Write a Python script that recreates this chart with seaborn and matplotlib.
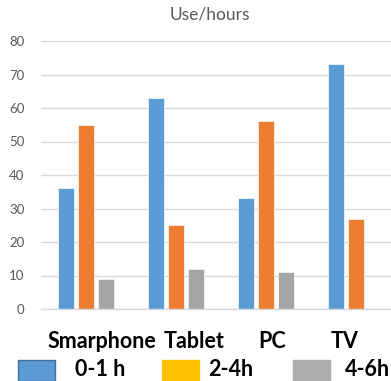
import numpy as np
import pandas as pd
import seaborn as sns
import matplotlib.pyplot as plt
from matplotlib.patches import Rectangle

# Device usage by hours per day
devices = ["Smarphone", "Tablet", "PC", "TV"]
series = ["0-1 h", "2-4h", "4-6h"]
use_0_1 = [36, 63, 33, 73]
use_2_4 = [55, 25, 56, 27]
use_4_6 = [9, 12, 11, np.nan]
title = "Use/hours"
y_ticks = [0, 10, 20, 30, 40, 50, 60, 70, 80]

bar_colors = ["#5B9BD5", "#ED7D31", "#A5A5A5"]
legend_colors = ["#5B9BD5", "#FFC000", "#AEABAB"]
legend_edges = ["#41719C", "#FFC000", "#AEABAB"]

df = pd.DataFrame({
    "device": devices * 3,
    "series": [s for s in series for _ in devices],
    "value": use_0_1 + use_2_4 + use_4_6,
})

sns.set_theme(style="white")
plt.rcParams["font.family"] = ["Lato", "DejaVu Sans"]

W, H = 391, 381
fig = plt.figure(figsize=(W / 100, H / 100), dpi=100)
ax = fig.add_axes([41 / W, (H - 309) / H, 1 - 41 / W, 268 / H])

sns.barplot(data=df, x="device", y="value", hue="series", order=devices,
            hue_order=series, palette=bar_colors, saturation=1,
            width=0.667, gap=0.2, edgecolor="#F2F2F2", linewidth=0.6,
            legend=False, ax=ax)

ax.set_xlim(-0.5, -0.5 + 350 / 90)
ax.set_ylim(0, 80)
ax.set_yticks(y_ticks)
ax.set_xticks([])
ax.set_xlabel("")
ax.set_ylabel("")
ax.grid(axis="y", color="#D9D9D9", linewidth=1.0)
ax.set_axisbelow(True)
for side in ["top", "right", "left"]:
    ax.spines[side].set_visible(False)
ax.spines["bottom"].set_color("#D9D9D9")
ax.spines["bottom"].set_linewidth(1.0)
ax.tick_params(axis="y", length=0, pad=12, labelsize=9.5, labelcolor="#595959")

fig.text(210 / W, 1 - 15 / H, title, ha="center", va="center",
         fontsize=12.5, color="#595959")

# Category labels row
label_left = [48, 164, 258, 331]
for name, x in zip(devices, label_left):
    fig.text(x / W, 1 - 347.5 / H, name, ha="left", va="baseline",
             fontsize=15.5, fontweight="bold", color="black")

# Legend row
patch_left = [18, 162, 293]
text_left = [75, 208, 345]
for name, px, tx, fc, ec in zip(series, patch_left, text_left,
                                legend_colors, legend_edges):
    fig.add_artist(Rectangle((px / W, 0), 37 / W, 21 / H, facecolor=fc,
                             edgecolor=ec, linewidth=1.0,
                             transform=fig.transFigure))
    fig.text(tx / W, 1 - 376 / H, name, ha="left", va="baseline",
             fontsize=15.5, fontweight="bold", color="black")

fig.savefig("out.png", dpi=100)
